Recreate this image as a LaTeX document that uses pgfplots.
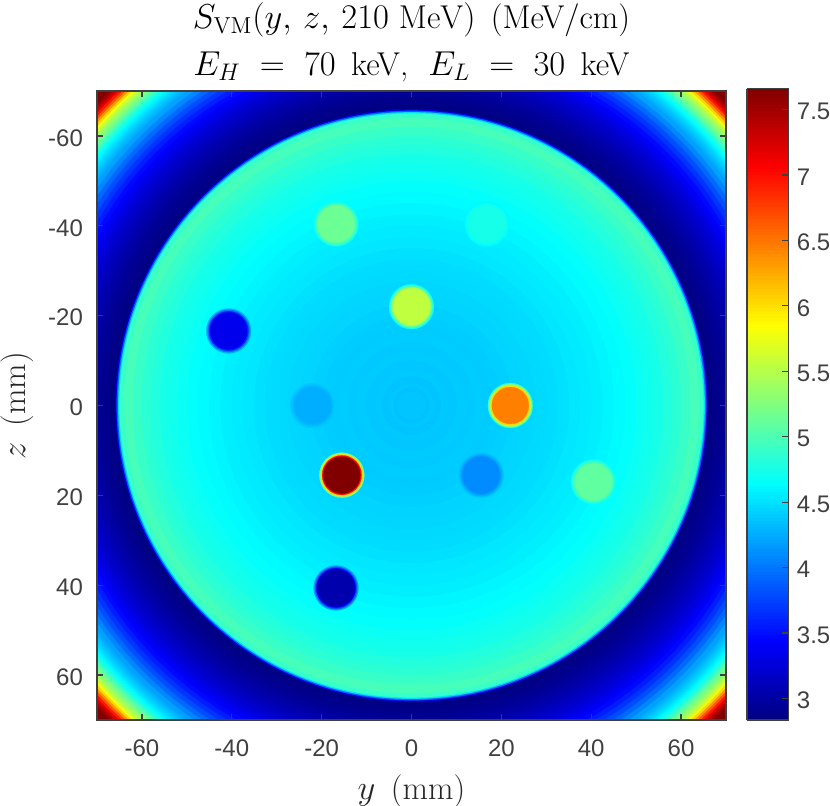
\documentclass[border=0pt]{standalone}
\usepackage{fontspec}
\usepackage{pgfplots}
\usepackage{pgfplotstable}
\pgfplotsset{compat=1.18}
\newfontfamily\ticksf{Liberation Sans}
\definecolor{axgray}{rgb}{0.25,0.25,0.25}

% discs drawn back to front: centre y, z (mm), radius (mm), value (MeV/cm)
\pgfplotstableread{
y z r v
0 0 99.5 7.66
0 0 97.5 7.66
0 0 97.0 7.55
0 0 96.5 7.40
0 0 96.0 7.20
0 0 95.5 6.95
0 0 95.0 6.65
0 0 94.5 6.35
0 0 94.0 6.05
0 0 93.5 5.78
0 0 93.0 5.60
0 0 92.5 5.45
0 0 92.0 5.33
0 0 91.5 5.22
0 0 91.0 5.10
0 0 90.5 4.97
0 0 90.0 4.84
0 0 89.5 4.72
0 0 89.0 4.62
0 0 88.5 4.54
0 0 88.0 4.46
0 0 87.5 4.40
0 0 87.0 4.33
0 0 86.5 4.27
0 0 86.0 4.20
0 0 85.0 4.07
0 0 84.0 3.93
0 0 83.0 3.80
0 0 82.0 3.68
0 0 81.0 3.57
0 0 80.0 3.47
0 0 79.0 3.40
0 0 78.0 3.33
0 0 77.0 3.26
0 0 76.0 3.20
0 0 75.0 3.15
0 0 74.0 3.10
0 0 73.0 3.05
0 0 72.0 3.01
0 0 71.0 2.97
0 0 70.0 2.93
0 0 69.0 2.90
0 0 68.0 2.88
0 0 67.0 2.86
0 0 66.2 2.85
0 0 65.9 3.30
0 0 65.6 3.90
0 0 65.3 4.50
0 0 65.0 4.90
0 0 64.0 4.97
0 0 62.0 4.91
0 0 60.0 4.85
0 0 58.0 4.80
0 0 56.0 4.75
0 0 54.0 4.72
0 0 52.0 4.69
0 0 50.0 4.66
0 0 47.5 4.63
0 0 45.0 4.60
0 0 42.5 4.57
0 0 40.0 4.55
0 0 37.5 4.53
0 0 35.0 4.50
0 0 32.5 4.48
0 0 30.0 4.47
0 0 27.5 4.45
0 0 25.0 4.44
0 0 22.5 4.42
0 0 20.0 4.41
0 0 18.0 4.40
0 0 16.0 4.41
0 0 14.0 4.39
0 0 12.0 4.40
0 0 10.0 4.38
0 0 8.0 4.39
0 0 6.5 4.36
0 0 5.0 4.38
0 0 4.0 4.35
0 0 3.2 4.37
-16.8 -40.4 5.0 4.72
-16.8 -40.4 4.7 4.87
-16.8 -40.4 4.4 5.04
-16.8 -40.4 4.1 5.15
16.8 -40.4 5.0 4.62
16.8 -40.4 4.7 4.67
16.8 -40.4 4.4 4.72
16.8 -40.4 4.1 4.75
0 -22 5.0 4.71
0 -22 4.7 4.99
0 -22 4.4 5.33
0 -22 4.1 5.55
-40.7 -16.6 5.0 4.27
-40.7 -16.6 4.7 3.97
-40.7 -16.6 4.4 3.60
-40.7 -16.6 4.1 3.35
-22 0 5.0 4.39
-22 0 4.7 4.35
-22 0 4.4 4.30
-22 0 4.1 4.26
22 0 5.0 4.94
22 0 4.7 5.44
22 0 4.4 6.05
22 0 4.1 6.45
-15.5 15.5 5.0 5.24
-15.5 15.5 4.7 6.04
-15.5 15.5 4.4 7.00
-15.5 15.5 4.1 7.66
15.5 15.5 5.0 4.35
15.5 15.5 4.7 4.27
15.5 15.5 4.4 4.17
15.5 15.5 4.1 4.10
40.5 17 5.0 4.71
40.5 17 4.7 4.84
40.5 17 4.4 5.00
40.5 17 4.1 5.10
-16.8 40.6 5.0 4.20
-16.8 40.6 4.7 3.82
-16.8 40.6 4.4 3.36
-16.8 40.6 4.1 3.05
}\discs

\begin{document}
\begin{tikzpicture}
\begin{axis}[
    scale only axis,
    width=314.5pt,
    height=314.5pt,
    xmin=-70, xmax=70,
    ymin=-70, ymax=70,
    y dir=reverse,
    axis on top,
    clip marker paths=true,
    xtick={-60,-40,...,60},
    ytick={-60,-40,...,60},
    tick align=inside,
    major tick length=3pt,
    axis line style={axgray,line width=0.6pt},
    every tick/.append style={axgray,line width=0.6pt},
    /pgf/number format/assume math mode=true,
    tick label style={font=\fontsize{12}{14}\selectfont\ticksf,text=axgray},
    xticklabel style={yshift=-6.5pt},
    yticklabel style={xshift=-3.5pt,yshift=-1pt},
    xlabel={$y$\ \,(mm)},
    ylabel={$z$\ \,(mm)},
    label style={font=\fontsize{16.5}{19}\selectfont,text=black!85},
    xlabel style={yshift=-2.2pt},
    ylabel style={yshift=0.5pt},
    title={$S_{\mathrm{VM}}(y,\,z,\,210\ \mathrm{MeV})$\ \,(MeV/cm)\\$E_H\mskip10mu{=}\mskip10mu70$\ \,keV,\ \ $E_L\mskip10mu{=}\mskip10mu30$\ \,keV},
    title style={font=\fontsize{16.5}{23.5}\selectfont,align=center,yshift=-5pt},
    colormap/jet,
    point meta min=2.835,
    point meta max=7.66,
    colorbar sampled,
    colorbar style={
        samples=200,
        width=20.8pt,
        height=315.7pt,
        at={(parent axis.north east)},
        anchor=north west,
        xshift=2pt,
        yshift=1.2pt,
        xmin=0, xmax=1,
        ytick={3,3.5,...,7.5},
        yticklabel pos=right,
        ytick pos=right,
        tick align=inside,
        major tick length=3.5pt,
        axis on top,
        axis line style={axgray,line width=0.6pt},
        every tick/.append style={axgray,line width=0.6pt},
        /pgf/number format/assume math mode=true,
        tick label style={font=\fontsize{12}{14}\selectfont\ticksf,text=axgray,xshift=0.6pt,yshift=-1pt},
    },
]
\addplot[
    scatter,
    only marks,
    mark=*,
    scatter/use mapped color={draw=mapped color,fill=mapped color},
    mark options={line width=0.1pt},
    point meta=\thisrow{v},
    visualization depends on={\thisrow{r}*2.2464 \as \rr},
    scatter/@pre marker code/.append style={/tikz/mark size=\rr pt},
] table[x=y,y=z] {\discs};
\end{axis}
\pgfresetboundingbox
\useasboundingbox (-48.5pt,-42.5pt) rectangle (366.5pt,360pt);
\end{tikzpicture}
\end{document}
